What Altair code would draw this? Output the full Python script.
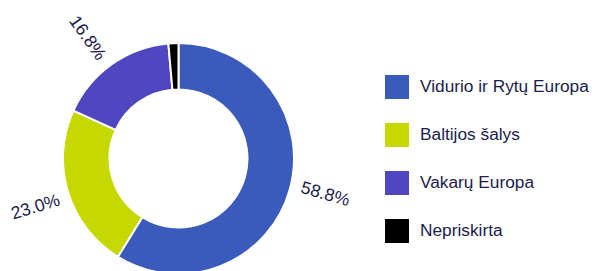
import altair as alt
import pandas as pd

categories = ["Vidurio ir Rytų Europa", "Baltijos šalys", "Vakarų Europa", "Nepriskirta"]
shares = [58.8, 23.0, 16.8, 1.4]
colors = ["#3a5bbb", "#c5d800", "#4e47bf", "#000000"]

df = pd.DataFrame({"region": categories, "share": shares})

FONT = "Liberation Sans"
TEXT_COLOR = "#1c1c4c"
cx, cy = 170.5, 150.5

base = (
    alt.Chart(df)
    .transform_window(idx="row_number()")
    .transform_joinaggregate(total="sum(share)")
    .transform_window(cum="sum(share)", sort=[alt.SortField("idx")], frame=[None, 0])
    .transform_calculate(
        mid="(datum.cum - datum.share / 2) / datum.total * 360",
        lpos="datum.mid - 2",
        rot="datum.mid < 180 ? datum.mid - 90 : datum.mid - 270",
        label="datum.share >= 2 ? format(datum.share, '.1f') + '%' : ''",
    )
)

arcs = base.mark_arc(
    outerRadius=115.5, innerRadius=69, stroke="white", strokeWidth=2
).encode(
    theta=alt.Theta("share:Q", stack=True),
    order=alt.Order("idx:Q"),
    x=alt.value(cx),
    y=alt.value(cy),
    color=alt.Color(
        "region:N",
        scale=alt.Scale(domain=categories, range=colors),
        legend=alt.Legend(
            title=None,
            orient="none",
            legendX=377,
            legendY=67,
            symbolType="square",
            symbolSize=576,
            symbolStrokeWidth=0,
            symbolOpacity=1,
            labelFont=FONT,
            labelFontSize=17.3,
            labelColor=TEXT_COLOR,
            labelOffset=11,
            rowPadding=24,
            labelLimit=300,
        ),
    ),
)

labels = base.mark_text(
    radius=151, font=FONT, fontSize=17.6, color=TEXT_COLOR, align="center", baseline="middle"
).encode(
    theta=alt.Theta("lpos:Q", stack=None, scale=alt.Scale(domain=[0, 360], range=[0, 6.283185307179586])),
    x=alt.value(cx),
    y=alt.value(cy),
    text="label:N",
    angle=alt.Angle("rot:Q", scale=None),
)

chart = (
    alt.layer(arcs, labels)
    .resolve_scale(theta="independent")
    .properties(width=583, height=263, padding=0, autosize=alt.AutoSizeParams(type="none"))
    .configure_view(stroke=None)
)

chart.save("out.html", embed_options={"renderer": "svg", "actions": False})
